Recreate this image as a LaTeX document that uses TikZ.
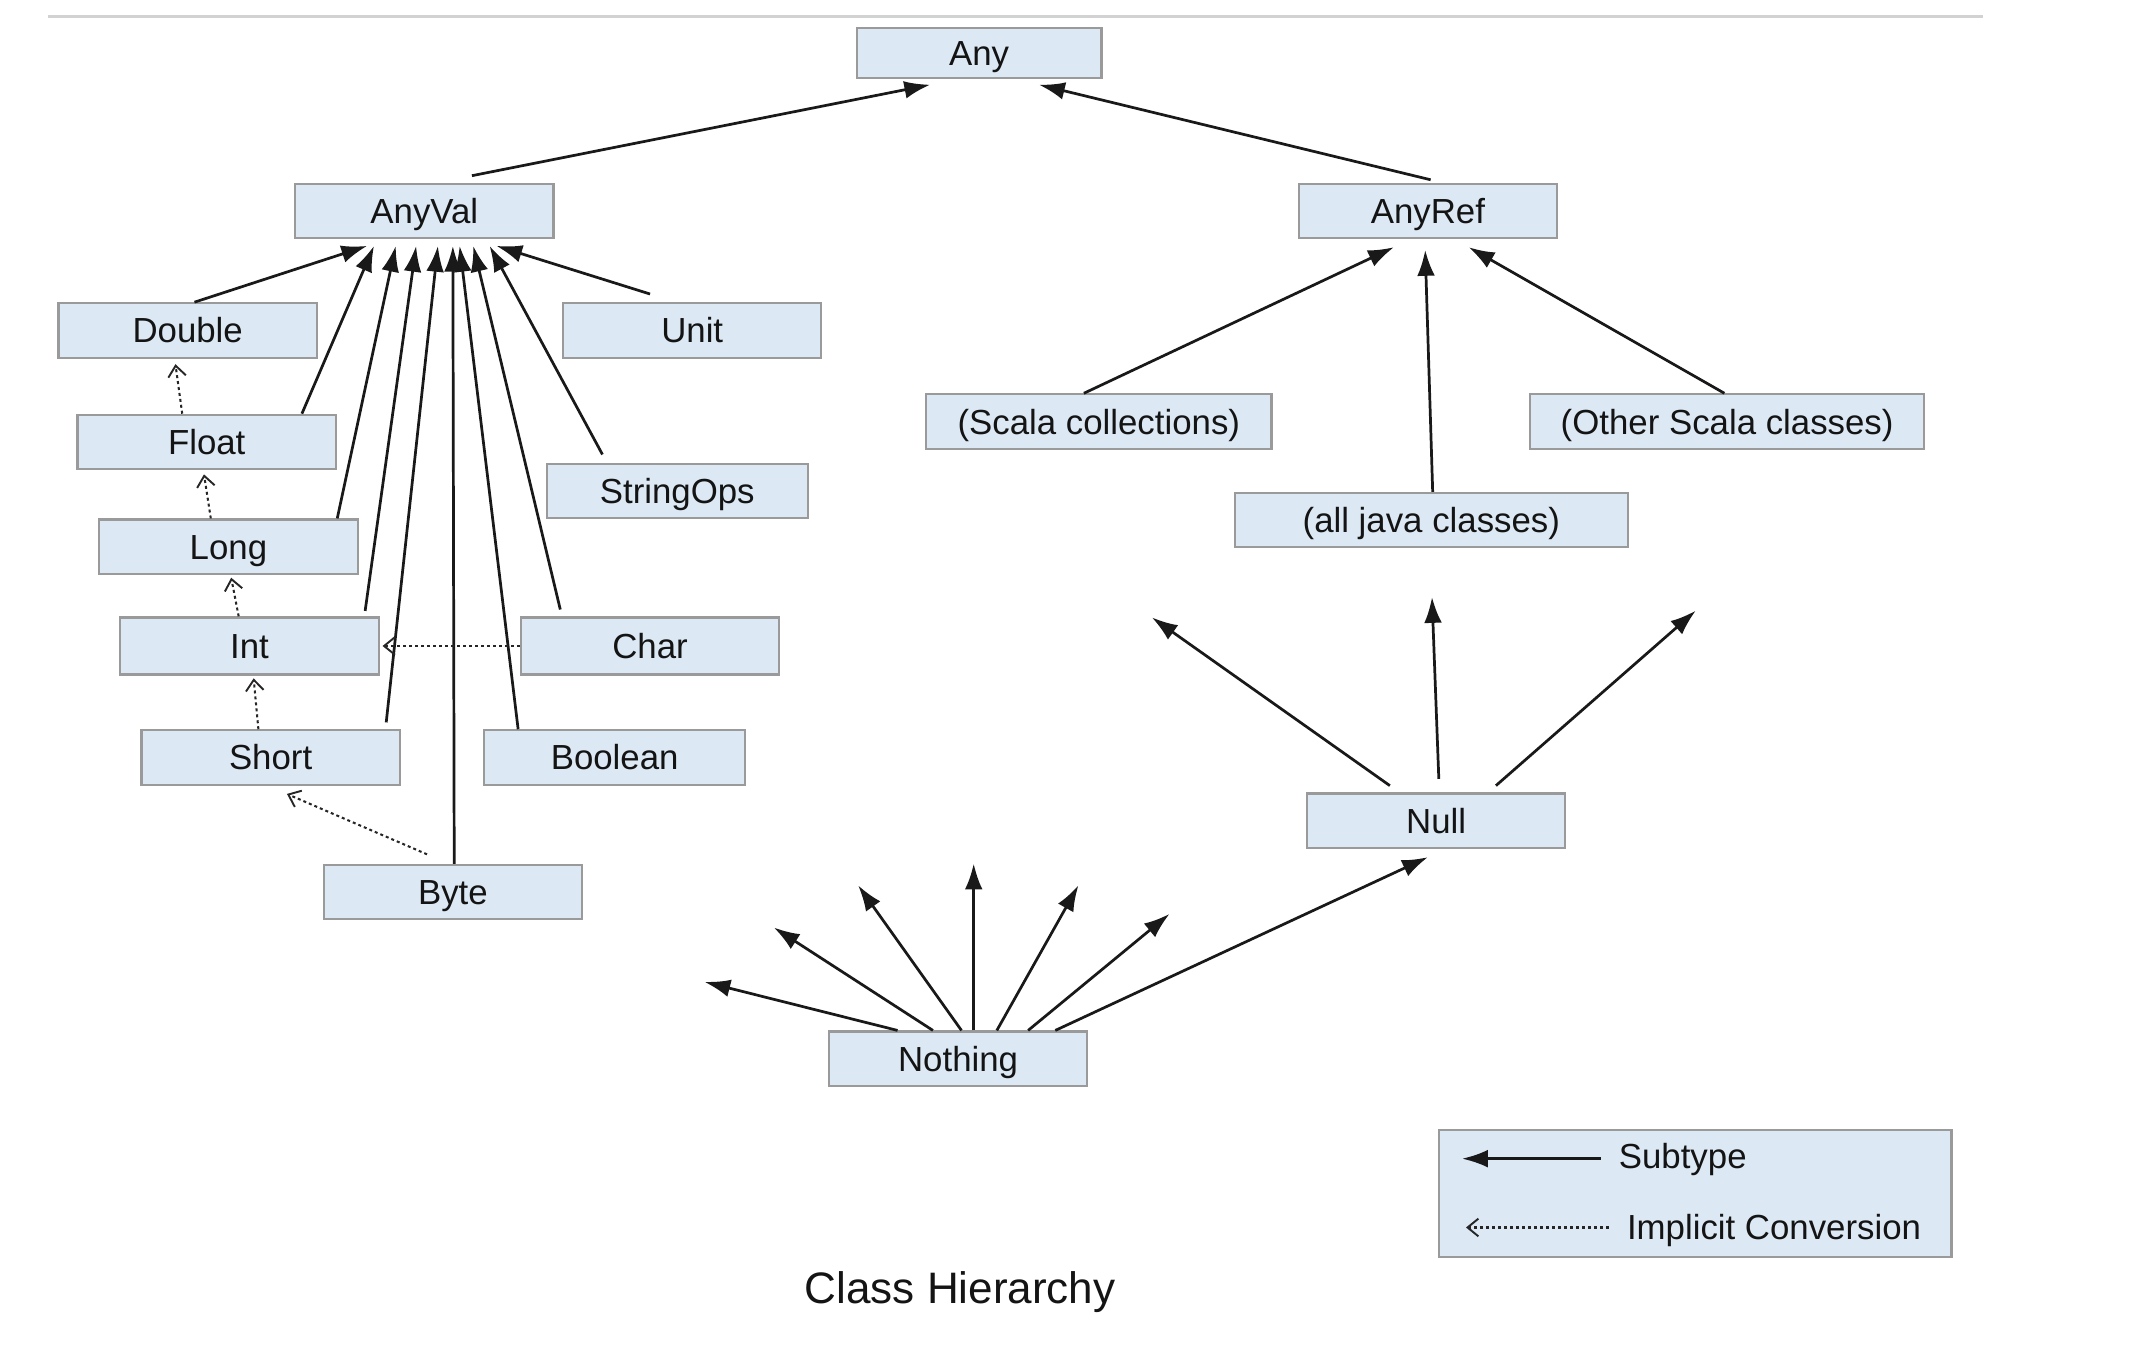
\documentclass[tikz,border=0pt]{standalone}
\usepackage{fontspec}
\setmainfont{Liberation Sans}
\usetikzlibrary{arrows.meta,calc}
\definecolor{boxfill}{HTML}{DCE9F5}
\definecolor{boxline}{HTML}{9A9A9A}
\definecolor{txt}{HTML}{141414}
\begin{document}
\begin{tikzpicture}[x=0.5pt,y=-0.5pt,
  lbl/.style={font=\fontsize{12.8}{15}\selectfont,text=txt},
  cls/.style={lbl,draw=boxline,line width=0.8pt,fill=boxfill,minimum width=95pt,minimum height=20pt,inner sep=0pt,text height=9.16pt,text depth=0pt},
  sub/.style={draw=black!90,line width=1pt,-{Latex[length=9.5pt,width=6.5pt]}},
  conv/.style={draw=black!85,line width=0.75pt,dash pattern=on 1.1pt off 1.1pt,-{Straight Barb[length=4pt,width=6.5pt,line width=0.7pt]}}]
\useasboundingbox (0,0) rectangle (1567,1006.6);
\draw[gray!35,line width=1pt] (35,12) -- (1458,12);
% nodes
\node[cls,minimum width=90pt,minimum height=18.5pt] (Any) at (720,39) {Any};
\node[cls] (AnyVal) at (312,155) {AnyVal};
\node[cls] (AnyRef) at (1050,155) {AnyRef};
\node[cls] (Double) at (138,243) {Double};
\node[cls] (Unit) at (509,243) {Unit};
\node[cls] (Float) at (152,325) {Float};
\node[cls,minimum width=96pt] (StringOps) at (498,361) {StringOps};
\node[cls] (Long) at (168,402) {Long};
\node[cls,minimum height=21pt] (Int) at (183.5,475) {Int};
\node[cls,minimum height=21pt] (Char) at (478,475) {Char};
\node[cls] (Short) at (199,557) {Short};
\node[cls,minimum width=96pt] (Boolean) at (452,557) {Boolean};
\node[cls] (Byte) at (333,656) {Byte};
\node[cls,minimum width=127pt] (ScalaColl) at (808,310) {(Scala collections)};
\node[cls,minimum width=145pt] (OtherScala) at (1270,310) {(Other Scala classes)};
\node[cls,minimum width=144.5pt] (Java) at (1052.5,382.5) {(all java classes)};
\node[cls] (Null) at (1056,603.5) {Null};
\node[cls] (Nothing) at (704.5,778.5) {Nothing};
% legend
\node[draw=boxline,line width=0.8pt,fill=boxfill,minimum width=188.5pt,minimum height=46.5pt,inner sep=0pt] (Legend) at (1246.5,877.5) {};
\node[lbl,anchor=base west,inner sep=0pt] (LSub) at (1190,859.5) {Subtype};
\node[lbl,anchor=base west,inner sep=0pt] (LConv) at (1196,911.6) {Implicit Conversion};
\node[font=\fontsize{16.2}{19}\selectfont,text=txt,text height=11.6pt,text depth=0pt,inner sep=0pt] (Caption) at (706,947) {Class Hierarchy};
% free ends
\coordinate (n1) at (847,454);
\coordinate (n2) at (1053,439);
\coordinate (n3) at (1247,449);
\coordinate (t1) at (518,722);
\coordinate (t2) at (569,682);
\coordinate (t3) at (631,651);
\coordinate (t4) at (716,635);
\coordinate (t5) at (793,651);
\coordinate (t6) at (860,672);
% subtype edges
\draw[sub] ($(AnyVal.north)+(35,-5)$) -- ($(Any.south)+(-36,4)$);
\draw[sub] ($(AnyRef.north)+(2,-2)$) -- ($(Any.south)+(44,4)$);
\draw[sub] ($(Double.north)+(5,0)$) -- ($(AnyVal.south)+(-42,5)$);
\draw[sub] ($(Float.north)+(70,0)$) -- ($(AnyVal.south)+(-37,5)$);
\draw[sub] ($(Long.north)+(80,0)$) -- ($(AnyVal.south)+(-21,5)$);
\draw[sub] ($(Int.north)+(85,-4)$) -- ($(AnyVal.south)+(-6,5)$);
\draw[sub] ($(Short.north)+(85,-5)$) -- ($(AnyVal.south)+(10,5)$);
\draw[sub] ($(Byte.north)+(1,0)$) -- ($(AnyVal.south)+(21,5)$);
\draw[sub] ($(Boolean.north)+(-71,0)$) -- ($(AnyVal.south)+(26,5)$);
\draw[sub] ($(Char.north)+(-66,-5)$) -- ($(AnyVal.south)+(36,5)$);
\draw[sub] ($(StringOps.north)+(-55,-6)$) -- ($(AnyVal.south)+(48,5)$);
\draw[sub] ($(Unit.north)+(-31,-6)$) -- ($(AnyVal.south)+(53,5)$);
\draw[sub] ($(ScalaColl.north)+(-11,0)$) -- ($(AnyRef.south)+(-25,6)$);
\draw[sub] ($(Java.north)+(1,0)$) -- ($(AnyRef.south)+(-2,8)$);
\draw[sub] ($(OtherScala.north)+(-2,0)$) -- ($(AnyRef.south)+(30,6)$);
\draw[sub] ($(Null.north)+(-34,-5)$) -- (n1);
\draw[sub] ($(Null.north)+(2,-10)$) -- (n2);
\draw[sub] ($(Null.north)+(44,-5)$) -- (n3);
\draw[sub] ($(Nothing.north)+(-44.5,0)$) -- (t1);
\draw[sub] ($(Nothing.north)+(-18.5,0)$) -- (t2);
\draw[sub] ($(Nothing.north)+(2.5,0)$) -- (t3);
\draw[sub] ($(Nothing.north)+(11.5,0)$) -- (t4);
\draw[sub] ($(Nothing.north)+(28.5,0)$) -- (t5);
\draw[sub] ($(Nothing.north)+(51.5,0)$) -- (t6);
\draw[sub] ($(Nothing.north)+(71.5,0)$) -- ($(Null.south)+(-6,6)$);
% implicit conversions
\draw[conv] ($(Float.north)+(-18,0)$) -- ($(Double.south)+(-9,4)$);
\draw[conv] ($(Long.north)+(-13,0)$) -- ($(Float.south)+(-2,3)$);
\draw[conv] ($(Int.north)+(-8,0)$) -- ($(Long.south)+(2,2)$);
\draw[conv] ($(Short.north)+(-9,0)$) -- ($(Int.south)+(3,2)$);
\draw[conv] (Char.west) -- ($(Int.east)+(2,0)$);
\draw[conv] ($(Byte.north)+(-19,-7)$) -- ($(Short.south)+(12,6)$);
% legend arrows
\draw[sub] ($(LSub.base west)+(-13,-7.5)$) -- ($(LSub.base west)+(-115,-7.5)$);
\draw[conv] ($(LConv.base west)+(-13,-9)$) -- ($(LConv.base west)+(-118,-9)$);
\end{tikzpicture}
\end{document}
